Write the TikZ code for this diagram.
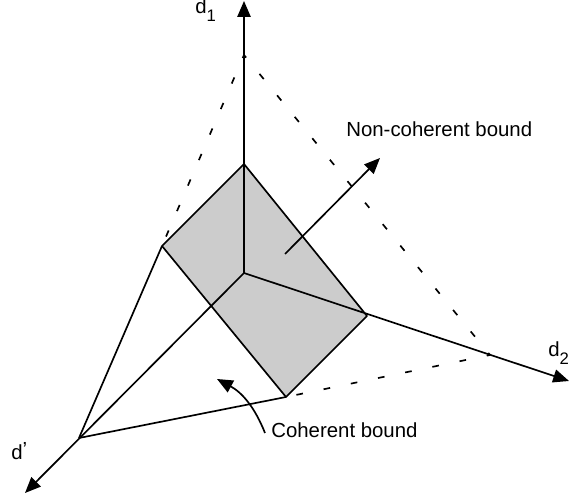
\documentclass[tikz,border=0pt]{standalone}
\usepackage{fontspec}
\setmainfont{Liberation Sans}
\usetikzlibrary{arrows.meta}
\newcommand{\axsub}[1]{\raisebox{-4.5pt}{\fontsize{9.5}{10}\selectfont #1}}

\begin{document}
\begin{tikzpicture}[
    x=0.02cm, y=-0.02cm,
    >={Triangle[length=9pt, width=7.5pt]},
    edge/.style={line width=0.95pt},
    arrow/.style={->, line width=0.95pt},
    dashline/.style={line width=0.95pt, dash pattern=on 3.8pt off 12pt, dash phase=1.9pt},
    label/.style={font=\fontsize{11.6}{14}\selectfont, inner sep=0pt, anchor=base west},
  ]
  \useasboundingbox (0,0) rectangle (569,502);

  \coordinate (origin) at (244,273);
  \coordinate (d1-tip) at (244,1);
  \coordinate (d2-tip) at (569,381);
  \coordinate (dp-tip) at (25,493);
  \coordinate (apex) at (244,55);
  \coordinate (far) at (490,355);
  \coordinate (low) at (79,438);
  \coordinate (top) at (244,164);
  \coordinate (right) at (367,316);
  \coordinate (bottom) at (286,397);
  \coordinate (left) at (162,246);
  \coordinate (nc-tail) at (285,254);
  \coordinate (nc-tip) at (380,158);
  \coordinate (c-tail) at (265,433);
  \coordinate (c-tip) at (217,379);

  % shaded face
  \fill[black!20] (top) -- (right) -- (bottom) -- (left) -- cycle;

  % axes
  \draw[arrow] (origin) -- (d1-tip);
  \draw[arrow] (origin) -- (d2-tip);
  \draw[arrow] (origin) -- (dp-tip);

  \draw[edge, line join=round] (top) -- (right) -- (bottom) -- (left) -- cycle;
  \draw[edge] (low) -- (left);
  \draw[edge] (low) -- (bottom);

  \draw[dashline] (apex) -- (left);
  \draw[dashline] (apex) -- (far);
  \draw[dashline] (far) -- (bottom);

  \draw[arrow] (nc-tail) -- (nc-tip);

  \node[label] (d1-lab) at (195,14) {d\axsub{1}};
  \node[label] (d2-lab) at (548,357) {d\axsub{2}};
  \node[label] (dp-lab) at (11,460) {d\raisebox{2pt}{’}};
  \node[label] (nc-lab) at (346,137) {Non-coherent bound};
  \node[label] (c-lab) at (271,438) {Coherent bound};

  \draw[arrow] (c-tail) to[bend right=20] (c-tip);
\end{tikzpicture}
\end{document}
